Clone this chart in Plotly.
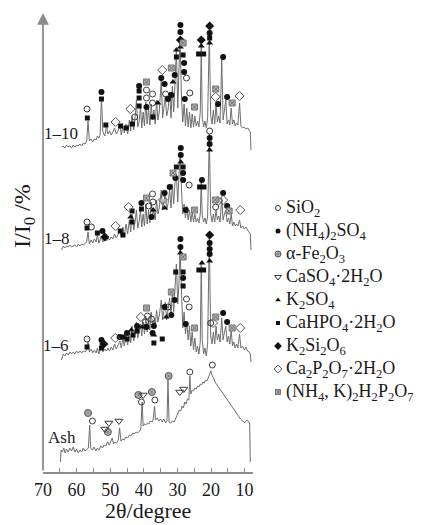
import plotly.graph_objects as go

# ---------------- data (2theta in degrees, relative intensity in arbitrary offset units) -------------
PROFILE_1_10 = [
    (64.5, 325), (64.0, 326), (63.5, 324), (63.0, 327), (62.5, 325), (62.0, 326), (61.5, 324), (61.0, 327),
    (60.5, 325), (60.0, 327), (59.5, 326), (59.0, 328), (58.5, 326), (58.0, 329), (57.5, 328), (57.0, 331),
    (56.6, 351), (56.2, 331), (55.7, 333), (55.2, 330), (54.7, 333), (54.2, 332), (53.8, 336), (53.4, 334),
    (53.0, 337), (52.6, 375), (52.2, 340), (51.6, 336), (51.1, 346), (50.7, 338), (50.2, 341), (49.7, 337),
    (49.2, 340), (48.7, 344), (48.2, 338), (47.7, 341), (47.1, 347), (46.7, 337), (46.2, 346), (45.8, 339),
    (45.3, 348), (44.8, 338), (44.3, 352), (43.9, 341), (43.5, 356), (43.0, 342), (42.6, 354), (42.2, 372),
    (41.8, 345), (41.4, 350), (41.0, 366), (40.6, 344), (40.2, 360), (39.8, 346), (39.4, 370), (39.0, 348),
    (38.6, 364), (38.2, 347), (37.8, 368), (37.4, 352), (37.0, 362), (36.6, 348), (36.2, 372), (35.8, 352),
    (35.4, 360), (34.8, 392), (34.4, 354), (34.0, 364), (33.6, 376), (33.2, 356), (32.8, 362), (32.3, 380),
    (31.9, 354), (31.5, 386), (31.1, 360), (30.7, 390), (30.3, 424), (29.9, 364), (29.6, 390), (29.2, 436),
    (28.8, 377), (28.4, 350), (28.0, 368), (27.6, 346), (27.2, 364), (26.8, 345), (26.4, 360), (26.0, 344),
    (25.6, 358), (25.2, 345), (24.8, 356), (24.4, 346), (24.0, 351), (23.6, 345), (23.2, 360), (22.9, 426),
    (22.6, 354), (22.2, 345), (21.8, 351), (21.4, 344), (21.0, 354), (20.5, 438), (20.1, 357), (19.7, 348),
    (19.3, 362), (18.9, 348), (18.5, 368), (18.1, 350), (17.7, 356), (17.3, 349), (16.8, 414), (16.4, 352),
    (16.0, 362), (15.6, 372), (15.2, 348), (14.8, 352), (14.4, 347), (14.0, 364), (13.6, 348), (13.2, 352),
    (12.8, 346), (12.4, 349), (12.0, 347), (11.5, 369), (11.1, 346), (10.6, 344), (10.1, 345), (9.6, 343),
    (9.1, 344), (8.6, 341), (8.3, 340), (8.1, 322),
]

PROFILE_1_8 = [
    (64.5, 222), (64.0, 226), (63.5, 224), (63.0, 226), (62.5, 225), (62.0, 227), (61.5, 225), (61.0, 226),
    (60.5, 227), (60.0, 225), (59.5, 228), (59.0, 226), (58.5, 228), (58.0, 227), (57.5, 229), (57.0, 230),
    (56.6, 240), (56.2, 228), (55.7, 232), (55.2, 229), (54.7, 233), (54.2, 230), (53.8, 238), (53.4, 229),
    (53.0, 232), (52.6, 236), (52.2, 230), (51.6, 233), (51.1, 231), (50.7, 234), (50.2, 232), (49.7, 235),
    (49.2, 233), (48.7, 238), (48.2, 234), (47.7, 237), (47.1, 243), (46.7, 235), (46.2, 245), (45.8, 236),
    (45.3, 248), (44.8, 238), (44.3, 252), (43.9, 240), (43.5, 258), (43.0, 242), (42.6, 250), (42.2, 262),
    (41.8, 244), (41.4, 250), (41.0, 262), (40.6, 245), (40.2, 258), (39.8, 246), (39.4, 268), (39.0, 248),
    (38.6, 262), (38.2, 249), (37.8, 270), (37.4, 256), (37.0, 262), (36.6, 252), (36.2, 272), (35.8, 258),
    (35.4, 264), (34.8, 282), (34.4, 262), (34.0, 270), (33.6, 280), (33.2, 262), (32.8, 268), (32.3, 282),
    (31.9, 264), (31.5, 288), (31.1, 268), (30.7, 290), (30.3, 298), (29.9, 270), (29.6, 290), (29.2, 320),
    (28.8, 284), (28.4, 258), (28.0, 268), (27.6, 254), (27.2, 266), (26.8, 252), (26.4, 262), (26.0, 250),
    (25.6, 260), (25.2, 250), (24.8, 258), (24.4, 250), (24.0, 254), (23.6, 249), (23.2, 258), (22.9, 290),
    (22.6, 256), (22.2, 250), (21.8, 254), (21.4, 248), (21.0, 256), (20.5, 338), (20.1, 258), (19.7, 250),
    (19.3, 258), (18.9, 250), (18.5, 262), (18.1, 252), (17.7, 256), (17.3, 250), (16.8, 274), (16.4, 252),
    (16.0, 258), (15.6, 262), (15.2, 250), (14.8, 254), (14.4, 248), (14.0, 258), (13.6, 246), (13.2, 250),
    (12.8, 246), (12.4, 248), (12.0, 246), (11.5, 252), (11.1, 244), (10.6, 246), (10.1, 243), (9.6, 245),
    (9.1, 242), (8.6, 240), (8.3, 238), (8.1, 222),
]

PROFILE_1_6 = [
    (64.5, 112), (64.0, 118), (63.5, 116), (63.0, 119), (62.5, 117), (62.0, 120), (61.5, 118), (61.0, 120),
    (60.5, 118), (60.0, 121), (59.5, 119), (59.0, 121), (58.5, 119), (58.0, 121), (57.5, 120), (57.0, 122),
    (56.6, 130), (56.2, 120), (55.7, 123), (55.2, 119), (54.7, 122), (54.2, 119), (53.8, 124), (53.4, 118),
    (53.0, 122), (52.6, 131), (52.2, 120), (51.6, 123), (51.1, 121), (50.7, 124), (50.2, 121), (49.7, 125),
    (49.2, 122), (48.7, 128), (48.2, 123), (47.7, 126), (47.1, 131), (46.7, 124), (46.2, 134), (45.8, 126),
    (45.3, 136), (44.8, 127), (44.3, 140), (43.9, 129), (43.5, 146), (43.0, 131), (42.6, 140), (42.2, 150),
    (41.8, 134), (41.4, 140), (41.0, 148), (40.6, 136), (40.2, 150), (39.8, 138), (39.4, 156), (39.0, 140),
    (38.6, 152), (38.2, 142), (37.8, 160), (37.4, 146), (37.0, 152), (36.6, 146), (36.2, 162), (35.8, 150),
    (35.4, 156), (34.8, 172), (34.4, 152), (34.0, 162), (33.6, 170), (33.2, 152), (32.8, 160), (32.3, 174),
    (31.9, 156), (31.5, 182), (31.1, 160), (30.7, 180), (30.3, 208), (29.9, 168), (29.6, 184), (29.2, 222),
    (28.8, 180), (28.4, 144), (28.0, 160), (27.6, 138), (27.2, 150), (26.8, 132), (26.4, 146), (26.0, 126),
    (25.6, 140), (25.2, 122), (24.8, 134), (24.4, 120), (24.0, 126), (23.6, 118), (23.2, 130), (22.9, 210),
    (22.6, 132), (22.2, 118), (21.8, 124), (21.4, 116), (21.0, 128), (20.5, 238), (20.1, 136), (19.7, 128),
    (19.3, 140), (18.9, 128), (18.5, 146), (18.1, 132), (17.7, 138), (17.3, 130), (16.8, 154), (16.4, 132),
    (16.0, 140), (15.6, 146), (15.2, 130), (14.8, 136), (14.4, 128), (14.0, 142), (13.6, 126), (13.2, 130),
    (12.8, 124), (12.4, 128), (12.0, 124), (11.5, 138), (11.1, 124), (10.6, 126), (10.1, 122), (9.6, 125),
    (9.1, 121), (8.6, 120), (8.3, 118), (8.1, 110),
]

PROFILE_ASH = [
    (64.8, 10), (64.6, 22), (64.2, 20), (63.8, 24), (63.4, 19), (63.0, 23), (62.5, 20), (62.0, 24),
    (61.5, 21), (61.0, 25), (60.5, 20), (60.0, 23), (59.5, 19), (59.0, 22), (58.5, 20), (58.0, 24),
    (57.5, 21), (57.0, 23), (56.5, 24), (56.1, 47), (55.8, 24), (55.3, 22), (54.8, 25), (54.3, 21),
    (53.8, 24), (53.3, 22), (52.8, 26), (52.3, 24), (51.8, 27), (51.3, 26), (50.8, 30), (50.3, 27),
    (49.8, 32), (49.4, 34), (49.0, 28), (48.6, 30), (48.1, 29), (47.6, 32), (47.2, 44), (46.8, 31),
    (46.3, 33), (45.8, 32), (45.3, 35), (44.8, 34), (44.3, 37), (43.8, 36), (43.3, 39), (42.8, 38),
    (42.3, 40), (41.8, 39), (41.3, 41), (40.9, 43), (40.5, 70), (40.2, 46), (39.8, 48), (39.4, 47),
    (38.9, 49), (38.5, 48), (38.0, 51), (37.5, 50), (37.2, 53), (36.8, 66), (36.5, 52), (36.0, 54),
    (35.5, 51), (35.0, 53), (34.5, 50), (34.0, 53), (33.5, 49), (33.1, 51), (32.8, 92), (32.5, 50),
    (32.0, 49), (31.5, 51), (31.0, 50), (30.6, 53), (30.2, 56), (29.8, 59), (29.4, 62), (29.0, 61),
    (28.6, 66), (28.2, 64), (27.8, 70), (27.4, 68), (27.0, 73), (26.6, 72), (26.3, 96), (26.0, 78),
    (25.6, 82), (25.2, 81), (24.8, 84), (24.4, 83), (24.0, 86), (23.6, 85), (23.2, 88), (22.8, 87),
    (22.4, 90), (22.0, 89), (21.6, 92), (21.2, 91), (20.8, 95), (20.4, 97), (20.0, 101), (19.6, 96),
    (19.2, 94), (18.8, 90), (18.4, 88), (18.0, 86), (17.6, 84), (17.2, 82), (16.8, 80), (16.4, 78),
    (16.0, 77), (15.6, 74), (15.2, 73), (14.8, 70), (14.4, 68), (14.0, 66), (13.6, 64), (13.2, 63),
    (12.8, 60), (12.4, 58), (12.0, 56), (11.6, 55), (11.2, 53), (10.8, 52), (10.4, 50), (10.0, 49),
    (9.6, 51), (9.2, 52), (8.8, 50), (8.5, 49), (8.3, 10),
]

SAMPLE_NAMES = ["1–10", "1–8", "1–6", "Ash"]

# phase markers: (2theta, intensity) for every labelled reflection
SIO2_PEAKS = [
    (56.9, 363), (42.7, 355), (39.2, 382), (39.2, 374), (37.4, 378), (37.4, 369), (33.5, 378), (27.3, 394), (26.3, 379),
    (56.9, 250), (55.6, 245), (38.5, 266), (37.4, 278), (37.3, 270), (26.5, 287), (18.6, 265), (20.4, 341),
    (56.9, 133), (39.5, 150), (38.9, 156), (37.7, 153), (32.8, 165), (27.3, 173), (26.5, 165), (20.1, 149),
    (55.3, 51), (40.7, 70), (36.7, 72), (26.3, 100), (19.6, 107),
]
NH4_2SO4_PEAKS = [
    (52.6, 380), (41.4, 386), (39.2, 365), (34.8, 394), (33.8, 388), (32.8, 373), (31.8, 377), (30.8, 397),
    (29.1, 447), (29.1, 440), (28.0, 409), (28.0, 400), (27.8, 373), (20.4, 439), (16.4, 415), (17.9, 368), (15.2, 375),
    (52.3, 241), (40.7, 269), (37.7, 255), (33.8, 279), (32.3, 285), (30.6, 294), (29.0, 324), (29.0, 317),
    (28.3, 299), (28.3, 292), (27.5, 262), (22.7, 292), (20.4, 334), (20.4, 328), (16.4, 279), (15.2, 266),
    (52.6, 132), (47.2, 135), (45.0, 139), (42.0, 146), (39.2, 145), (37.4, 139), (37.0, 146), (33.8, 165),
    (30.8, 172), (31.8, 157), (29.1, 233), (29.1, 225), (28.3, 194), (27.5, 148), (20.4, 229), (20.4, 223),
    (20.4, 218), (16.4, 159), (15.2, 150),
]
FE2O3_PEAKS = [(56.6, 59), (50.7, 40), (41.6, 77), (37.6, 80), (32.6, 96)]
CASO4_PEAKS = [(50.4, 49), (51.6, 43), (47.4, 51), (40.2, 77), (29.3, 80), (28.1, 83)]
K2SO4_PEAKS = [
    (35.8, 369), (31.3, 390), (30.3, 422), (29.1, 425), (22.9, 426), (20.4, 429),
    (43.9, 255), (37.2, 262), (33.8, 264), (29.0, 310), (20.4, 322),
    (43.7, 142), (40.5, 145), (37.0, 137), (33.3, 155), (29.1, 219), (22.7, 209), (20.4, 211),
]
CAHPO4_PEAKS = [
    (56.8, 354), (52.6, 373), (51.3, 347), (46.9, 346), (45.2, 344), (43.4, 348), (41.4, 381), (41.4, 374),
    (41.4, 366), (37.3, 355), (30.3, 415), (28.3, 417), (23.7, 418), (22.2, 418), (20.4, 434),
    (56.9, 244), (53.8, 239), (47.0, 241), (46.2, 237), (43.5, 261), (43.5, 250), (40.7, 263),
    (30.3, 305), (28.3, 305), (23.4, 285), (22.1, 285),
    (56.9, 125), (52.6, 124), (46.2, 135), (45.0, 133), (43.2, 137), (42.0, 141), (37.0, 129), (34.5, 133),
    (30.5, 200), (28.3, 200), (28.3, 186), (23.6, 202), (22.2, 202),
]
K2SI2O6_PEAKS = [(29.1, 432), (22.9, 432), (20.4, 446), (51.6, 235), (51.9, 128), (20.4, 237)]
CA2P2O7_PEAKS = [
    (48.4, 350), (44.0, 363), (34.5, 402), (18.6, 375), (11.5, 376),
    (48.4, 246), (44.5, 265), (34.3, 272), (17.9, 271), (16.4, 272), (11.3, 262),
    (48.5, 134), (40.9, 155), (19.4, 149), (11.3, 144),
]
NHK_P2O7_PEAKS = [
    (39.2, 390), (31.8, 404), (28.3, 429), (24.9, 365), (18.6, 383), (13.7, 369),
    (39.2, 274), (31.3, 299), (24.9, 262), (18.7, 272), (14.6, 261),
    (39.2, 164), (31.8, 180), (28.3, 215), (24.9, 144), (18.6, 155), (13.7, 144),
]

PHASE_NAMES = [
    "SiO<sub>2</sub>",
    "(NH<sub>4</sub>)<sub>2</sub>SO<sub>4</sub>",
    "α-Fe<sub>2</sub>O<sub>3</sub>",
    "CaSO<sub>4</sub>·2H<sub>2</sub>O",
    "K<sub>2</sub>SO<sub>4</sub>",
    "CaHPO<sub>4</sub>·2H<sub>2</sub>O",
    "K<sub>2</sub>Si<sub>2</sub>O<sub>6</sub>",
    "Ca<sub>2</sub>P<sub>2</sub>O<sub>7</sub>·2H<sub>2</sub>O",
    "(NH<sub>4</sub>, K)<sub>2</sub>H<sub>2</sub>P<sub>2</sub>O<sub>7</sub>",
]
PHASE_PEAKS = [SIO2_PEAKS, NH4_2SO4_PEAKS, FE2O3_PEAKS, CASO4_PEAKS, K2SO4_PEAKS,
               CAHPO4_PEAKS, K2SI2O6_PEAKS, CA2P2O7_PEAKS, NHK_P2O7_PEAKS]

X_TICKS = [70, 65, 60, 55, 50, 45, 40, 35, 30, 25, 20, 15, 10]

# ---------------- styles ----------------
FONT = "Liberation Serif, Times New Roman, serif"
AXIS_GRAY = "#8c8c8c"
LINE_GRAY = "#6e6e6e"
TEXT = "#1a1a1a"
PHASE_STYLES = [
    dict(symbol="circle-open", color="#3a3a3a", size=6, line=dict(width=1, color="#3a3a3a")),
    dict(symbol="circle", color="#111111", size=6, line=dict(width=0)),
    dict(symbol="circle-dot", color="#a8a8a8", size=7, line=dict(width=1, color="#555555")),
    dict(symbol="triangle-down-open", color="#3a3a3a", size=7, line=dict(width=1, color="#3a3a3a")),
    dict(symbol="triangle-up", color="#111111", size=6, line=dict(width=0)),
    dict(symbol="square", color="#111111", size=5, line=dict(width=0)),
    dict(symbol="diamond", color="#111111", size=7, line=dict(width=0)),
    dict(symbol="diamond-open", color="#555555", size=7, line=dict(width=1, color="#555555")),
    dict(symbol="square-x", color="#b0b0b0", size=6, line=dict(width=1, color="#777777")),
]

fig = go.Figure()

for prof in [PROFILE_1_10, PROFILE_1_8, PROFILE_1_6, PROFILE_ASH]:
    xs, ys = zip(*prof)
    fig.add_trace(go.Scatter(x=list(xs), y=list(ys), mode="lines",
                             line=dict(color=LINE_GRAY, width=1), showlegend=False,
                             hoverinfo="skip"))

for name, peaks, st in zip(PHASE_NAMES, PHASE_PEAKS, PHASE_STYLES):
    xs, ys = zip(*peaks)
    fig.add_trace(go.Scatter(x=list(xs), y=list(ys), mode="markers", name=name,
                             marker=st, showlegend=False, cliponaxis=False))

# custom legend (drawn on an auxiliary axis to the right of the plot)
LEG_TOP, LEG_STEP = 264, 23
for i, (name, st) in enumerate(zip(PHASE_NAMES, PHASE_STYLES)):
    yy = LEG_TOP - i * LEG_STEP
    small = dict(st)
    small["size"] = st["size"] - 1
    fig.add_trace(go.Scatter(x=[25], y=[yy], xaxis="x2", yaxis="y", mode="markers",
                             marker=small, showlegend=False, hoverinfo="skip", cliponaxis=False))
    fig.add_annotation(x=31, y=yy, xref="x2", yref="y", text=name, showarrow=False,
                       xanchor="left", yanchor="middle",
                       font=dict(family=FONT, size=18, color=TEXT))

# sample labels
label_pos = [(64.5, 339), (65.9, 234), (66.1, 127), (64.4, 35)]
for name, (lx, ly) in zip(SAMPLE_NAMES, label_pos):
    fig.add_annotation(x=lx, y=ly, xref="x", yref="y", text=name, showarrow=False,
                       xanchor="center", yanchor="middle",
                       font=dict(family=FONT, size=17, color=TEXT))

# y axis with arrow
fig.add_annotation(x=70, y=459, ax=70, ay=0, xref="x", yref="y", axref="x", ayref="y",
                   text="", showarrow=True, arrowhead=2, arrowsize=1.3, arrowwidth=1.8,
                   arrowcolor=AXIS_GRAY)

PLOT_W = 431 - 43
MAIN_FRAC = 210 / PLOT_W

fig.add_annotation(x=(24 - 43) / PLOT_W, y=(472 - 216) / 464, xref="paper", yref="paper",
                   text="I/I<sub>0</sub> /%", textangle=-90, showarrow=False,
                   xanchor="center", yanchor="middle",
                   font=dict(family=FONT, size=24, color=TEXT))
fig.add_annotation(x=MAIN_FRAC / 2, y=(472 - 510) / 464, xref="paper", yref="paper",
                   text="2θ/degree", showarrow=False, xanchor="center", yanchor="middle",
                   font=dict(family=FONT, size=22, color=TEXT))

fig.update_layout(
    width=431, height=525,
    margin=dict(l=43, r=0, t=8, b=53),
    paper_bgcolor="white", plot_bgcolor="white",
    showlegend=False,
    xaxis=dict(range=[70, 7.5], domain=[0, MAIN_FRAC], showgrid=False, zeroline=False,
               showline=True, linecolor=AXIS_GRAY, linewidth=2,
               ticks="inside", ticklen=4, tickwidth=1, tickcolor=AXIS_GRAY,
               tickvals=X_TICKS, ticktext=[str(v) if v % 10 == 0 else "" for v in X_TICKS],
               tickfont=dict(family=FONT, size=18, color=TEXT), ticklabelstandoff=0),
    yaxis=dict(range=[0, 464], visible=False),
    xaxis2=dict(range=[0, 431 - 253], domain=[MAIN_FRAC, 1], anchor="y", visible=False),
)

fig.write_html("out.html")
